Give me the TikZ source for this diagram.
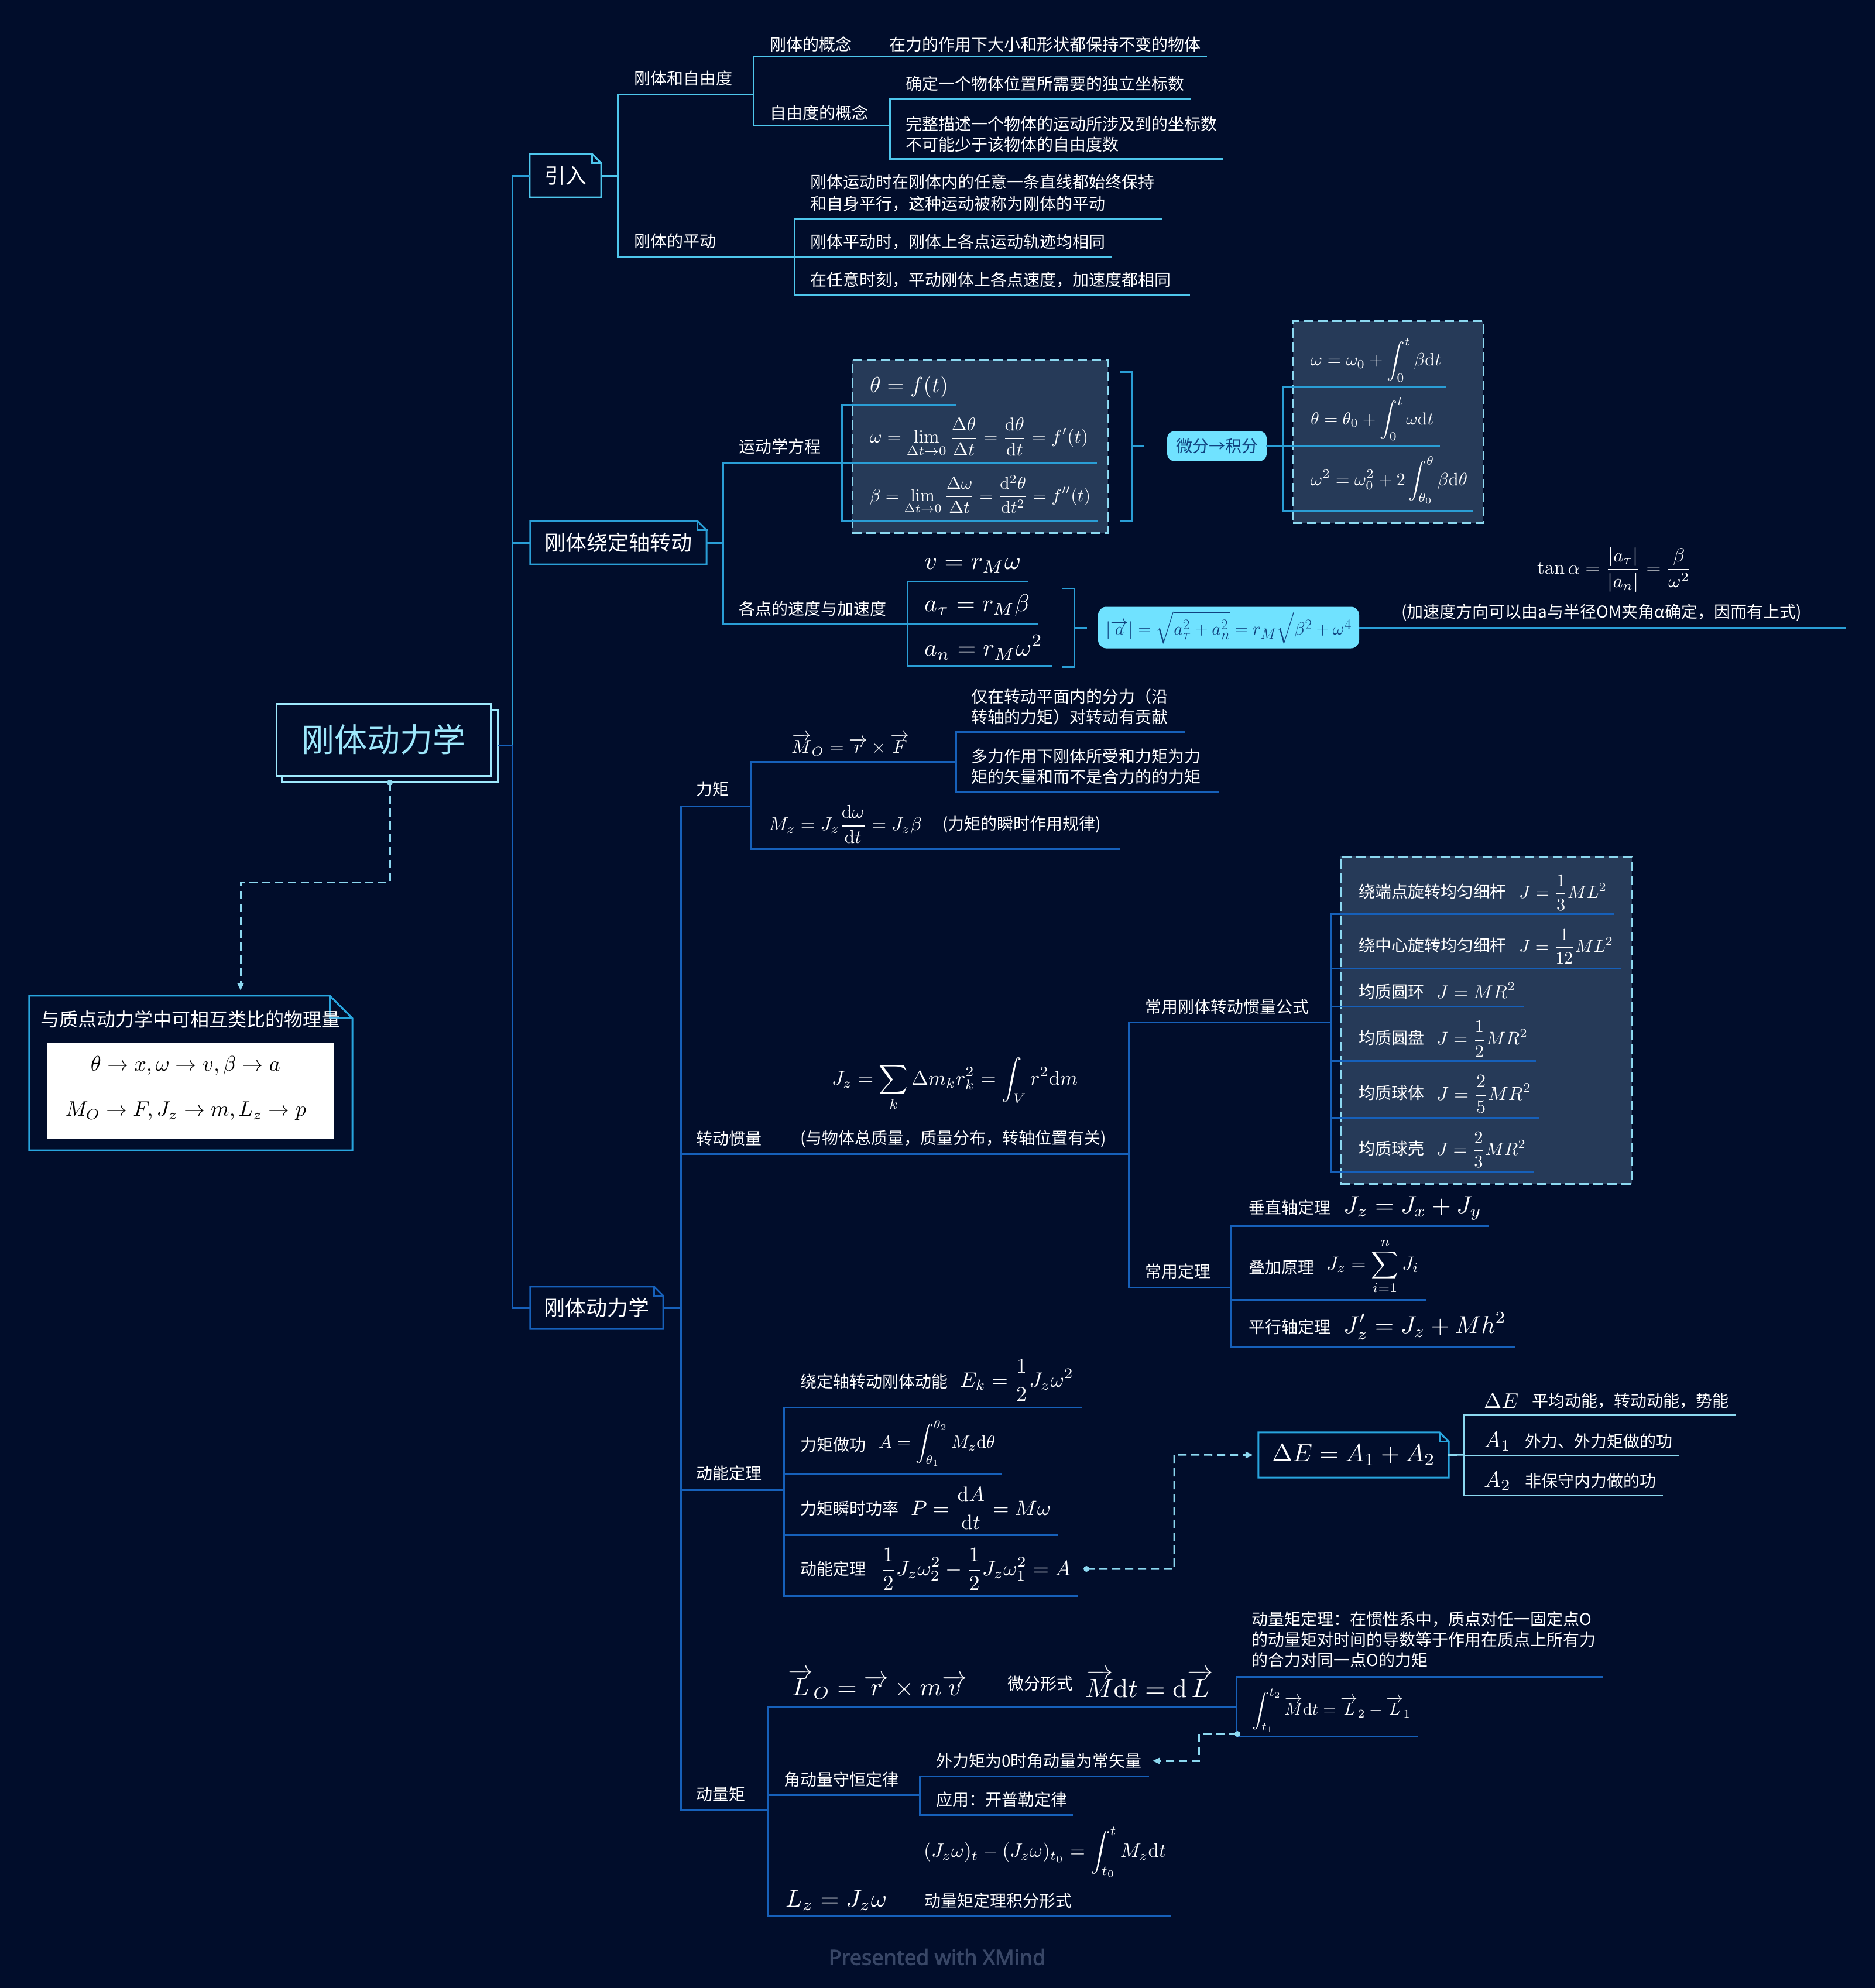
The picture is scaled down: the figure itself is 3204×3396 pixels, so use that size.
\documentclass[tikz,border=0pt]{standalone}
\usepackage{amsmath}
\usepackage[no-math]{fontspec}
\usepackage{graphicx}
\newfontfamily\cjk{Noto Sans CJK SC}
\newfontfamily\footf{Noto Sans}[FakeBold=2.5]
\usetikzlibrary{arrows.meta}
\definecolor{bg}{RGB}{1,13,43}
\definecolor{cA}{RGB}{78,198,236}
\definecolor{cB}{RGB}{42,158,214}
\definecolor{cC}{RGB}{22,96,186}
\definecolor{cD}{RGB}{140,216,240}
\definecolor{cF}{RGB}{38,58,88}
\definecolor{cP}{RGB}{112,226,255}
\definecolor{cT}{RGB}{16,66,128}
\definecolor{cR}{RGB}{158,232,252}
\definecolor{cN}{RGB}{40,165,222}
\definecolor{cG}{RGB}{56,70,102}
\newcommand\fw[2]{\resizebox{#1pt}{!}{$\displaystyle #2$}}
\newcommand\mydd{\mathrm{d}}
\newcommand\vecx[1]{\overrightarrow{#1}}
\newcommand\myline[5][lnC]{\coordinate (#2-l) at (#3,#5);\coordinate (#2-r) at (#4,#5);\draw[#1] (#2-l) -- (#2-r);}
\newcommand\foldbox[3]{%
 \draw[#2] (#1.south west) -- (#1.north west) -- ([xshift=-#3pt]#1.north east) -- ([yshift=-#3pt]#1.north east) -- (#1.south east) -- cycle;
 \draw[#2] ([xshift=-#3pt]#1.north east) -- ([xshift=-#3pt,yshift=-#3pt]#1.north east) -- ([yshift=-#3pt]#1.north east);}
\begin{document}
\begin{tikzpicture}[x=1pt,y=-1pt,
 lnA/.style={line width=3pt,draw=cA,line cap=rect},
 lnB/.style={line width=3pt,draw=cB,line cap=rect},
 lnC/.style={line width=3pt,draw=cC,line cap=rect},
 lnD/.style={line width=3pt,draw=cD,line cap=rect},
 lnN/.style={line width=3pt,draw=cN},
 tx/.style={anchor=west,inner sep=0pt,text=white,font=\cjk\fontsize{28}{35}\selectfont,align=left},
 fm/.style={anchor=west,inner sep=0pt,text=white},
 bx/.style={inner sep=0pt,text=white,font=\cjk\fontsize{36}{40}\selectfont,minimum height=74pt},
 dbox/.style={draw=cD,fill=cF,line width=3pt,dash pattern=on 16pt off 8pt,inner sep=0pt},
 dcon/.style={draw=cD,line width=3pt,dash pattern=on 14pt off 8pt},
 arrtip/.style={-{Triangle[length=13pt,width=11pt]}},
 pillbox/.style={fill=cP,rounded corners=12pt,inner sep=0pt,text=cT,font=\cjk\fontsize{28}{32}\selectfont}
]
\useasboundingbox (0,0) rectangle (3204,3396);
\fill[bg] (0,0) rectangle (3204,3396);

% ---------- central topic ----------
\node[draw=cR,line width=3pt,fill=bg,minimum width=369pt,minimum height=123pt,inner sep=0pt] (rootsh) at (665.5,1273.5) {};
\node[draw=cR,line width=3pt,fill=bg,minimum width=366pt,minimum height=123pt,inner sep=0pt,text=cR,font=\cjk\fontsize{56}{60}\selectfont] (root) at (655,1263.5) {刚体动力学};
\coordinate (trunk) at (875,1273.5);
\draw[lnC] (rootsh.east) -- (trunk);

% ---------- main boxes ----------
\node[bx,minimum width=122pt] (intro) at (966,300) {引入};
\foldbox{intro}{lnA}{16}
\node[bx,minimum width=301pt] (rot) at (1056.5,927) {刚体绕定轴转动};
\foldbox{rot}{lnB}{16}
\node[bx,minimum width=227pt,minimum height=72pt] (dyn) at (1019.5,2234) {刚体动力学};
\foldbox{dyn}{lnC}{16}
\draw[lnB] (trunk) |- (intro.west);
\draw[lnB] (trunk) |- (rot.west);
\draw[lnC] (trunk) |- (dyn.west);

% ---------- 引入 ----------
\coordinate (iV) at (1055,300);
\draw[lnA] (intro.east) -- (iV);
\myline[lnA]{a1}{1055}{1287}{162}
\myline[lnA]{a2}{1055}{1357}{438}
\draw[lnA] (a1-l) -- (a2-l);
\node[tx] (ta1) at (1083,134) {刚体和自由度};
\node[tx] (ta2) at (1083,412) {刚体的平动};
\myline[lnA]{b1}{1287}{2060}{97}
\myline[lnA]{b2}{1287}{1520}{215}
\draw[lnA] (b1-l) -- (b2-l);
\node[tx] (tb1) at (1315,76) {刚体的概念};
\node[tx] (tb1c) at (1519,76) {在力的作用下大小和形状都保持不变的物体};
\node[tx] (tb2) at (1315,193) {自由度的概念};
\myline[lnA]{c1}{1520}{2032}{169}
\myline[lnA]{c2}{1520}{2088}{271}
\draw[lnA] (c1-l) -- (c2-l);
\node[tx] (tc1) at (1547,143) {确定一个物体位置所需要的独立坐标数};
\node[tx] (tc2) at (1547,229) {完整描述一个物体的运动所涉及到的坐标数\\不可能少于该物体的自由度数};
\myline[lnA]{d1}{1357}{1983}{373}
\myline[lnA]{d2}{1357}{1898}{438}
\myline[lnA]{d3}{1357}{2031}{504}
\draw[lnA] (d1-l) -- (d3-l);
\node[tx,font=\cjk\fontsize{28}{37}\selectfont] (td1) at (1384,330) {刚体运动时在刚体内的任意一条直线都始终保持\\和自身平行，这种运动被称为刚体的平动};
\node[tx] (td2) at (1384,413) {刚体平动时，刚体上各点运动轨迹均相同};
\node[tx] (td3) at (1384,478) {在任意时刻，平动刚体上各点速度，加速度都相同};

% ---------- 刚体绕定轴转动 ----------
\node[dbox,minimum width=437pt,minimum height=295pt] (kbox) at (1674.5,762.5) {};
\node[dbox,minimum width=325pt,minimum height=345pt] (ibox) at (2371.5,720.5) {};
\coordinate (rV) at (1235,927);
\draw[lnB] (rot.east) -- (rV);
\myline[lnB]{e1}{1235}{1438}{790}
\myline[lnB]{e2}{1235}{1550}{1065}
\draw[lnB] (e1-l) -- (e2-l);
\node[tx] (te1) at (1262,763) {运动学方程};
\node[tx] (te2) at (1262,1040) {各点的速度与加速度};
\myline[lnB]{f1}{1438}{1632}{691}
\myline[lnB]{f2}{1438}{1872}{790}
\myline[lnB]{f3}{1438}{1873}{889}
\draw[lnB] (f1-l) -- (f3-l);
\node[fm] (ff1) at (1486,661) {\fw{134}{\theta=f(t)}};
\node[fm] (ff2) at (1486,747) {\fw{373}{\omega=\lim_{\Delta t\to0}\frac{\Delta\theta}{\Delta t}=\frac{\mydd\theta}{\mydd t}=f'(t)}};
\node[fm] (ff3) at (1486,845) {\fw{377}{\beta=\lim_{\Delta t\to0}\frac{\Delta\omega}{\Delta t}=\frac{\mydd^2\theta}{\mydd t^2}=f''(t)}};
\draw[lnB] (1914,635) -- (1933,635) -- (1933,889) -- (1914,889);
\draw[lnB] (1933,762) -- (1952,762);
\node[pillbox,minimum width=170pt,minimum height=51pt] (pill) at (2079,762) {微分→积分};
\coordinate (pV) at (2192,762);
\draw[lnB] (pill.east) -- (pV);
\myline[lnB]{g1}{2192}{2468}{660}
\myline[lnB]{g2}{2192}{2458}{762}
\myline[lnB]{g3}{2192}{2514}{872}
\draw[lnB] (g1-l) -- (g3-l);
\node[fm] (fg1) at (2239,615) {\fw{223}{\omega=\omega_0+\int_0^t\beta\mydd t}};
\node[fm] (fg2) at (2239,716) {\fw{210}{\theta=\theta_0+\int_0^t\omega\mydd t}};
\node[fm] (fg3) at (2239,820) {\fw{268}{\omega^2=\omega_0^2+2\int_{\theta_0}^{\theta}\beta\mydd\theta}};
\myline[lnB]{h1}{1550}{1755}{993}
\myline[lnB]{h2}{1550}{1771}{1065}
\myline[lnB]{h3}{1550}{1795}{1137}
\draw[lnB] (h1-l) -- (h3-l);
\node[fm] (fh1) at (1579,966) {\fw{165}{v=r_M\omega}};
\node[fm] (fh2) at (1579,1034) {\fw{180}{a_\tau=r_M\beta}};
\node[fm] (fh3) at (1579,1106) {\fw{202}{a_n=r_M\omega^2}};
\draw[lnB] (1815,1005) -- (1835,1005) -- (1835,1139) -- (1815,1139);
\draw[lnB] (1835,1072) -- (1855,1072);
\node[pillbox,minimum width=446pt,minimum height=71pt,rounded corners=14pt] (abox) at (2099,1072) {\fw{420}{|\vecx{a}|=\sqrt{a_\tau^2+a_n^2}=r_M\sqrt{\beta^2+\omega^4}}};
\coordinate (tanR) at (3152,1072);
\draw[lnB] (abox.east) -- (tanR);
\node[fm] (ftan) at (2626,973) {\fw{264}{\tan\alpha=\frac{|a_\tau|}{|a_n|}=\frac{\beta}{\omega^2}}};
\node[tx] (ttan) at (2394,1046) {(加速度方向可以由a与半径OM夹角α确定，因而有上式)};

% ---------- 刚体动力学 ----------
\node[dbox,minimum width=498pt,minimum height=559pt] (mbox) at (2539,1742.5) {};
\coordinate (dV) at (1163,2234);
\draw[lnC] (dyn.east) -- (dV);
\myline{k1}{1163}{1282}{1377}
\myline{k2}{1163}{1928}{1971}
\myline{k3}{1163}{1339}{2545}
\myline{k4}{1163}{1311}{3091}
\draw[lnC] (k1-l) -- (k4-l);
\node[tx] (tk1) at (1189,1348) {力矩};
\node[tx] (tk2) at (1189,1945) {转动惯量};
\node[tx] (tk3) at (1189,2517) {动能定理};
\node[tx] (tk4) at (1189,3065) {动量矩};
% 力矩
\myline{m1}{1282}{1633}{1301}
\myline{m2}{1282}{1912}{1450}
\draw[lnC] (m1-l) -- (m2-l);
\node[fm] (fm1) at (1352,1272) {\fw{201}{\vecx{M}_O=\vecx{r}\times\vecx{F}}};
\node[fm] (fm2) at (1313,1408) {\fw{262}{M_z=J_z\frac{\mydd\omega}{\mydd t}=J_z\beta}};
\node[tx] (tm2) at (1610,1408) {(力矩的瞬时作用规律)};
\myline{n1}{1633}{2023}{1250}
\myline{n2}{1633}{2081}{1352}
\draw[lnC] (n1-l) -- (n2-l);
\node[tx] (tn1) at (1659,1207) {仅在转动平面内的分力（沿\\转轴的力矩）对转动有贡献};
\node[tx] (tn2) at (1659,1309) {多力作用下刚体所受和力矩为力\\矩的矢量和而不是合力的的力矩};
% 转动惯量
\node[fm] (fjz) at (1421,1852) {\fw{420}{J_z=\sum_k\Delta m_k r_k^2=\int_V r^2\mydd m}};
\node[tx] (tjz) at (1367,1945) {(与物体总质量，质量分布，转轴位置有关)};
\myline{p1}{1928}{2273}{1746}
\myline{p2}{1928}{2103}{2199}
\draw[lnC] (p1-l) -- (p2-l);
\node[tx] (tp1) at (1956,1720) {常用刚体转动惯量公式};
\node[tx] (tp2) at (1956,2172) {常用定理};
\myline{q1}{2273}{2756}{1561}
\myline{q2}{2273}{2768}{1654}
\myline{q3}{2273}{2602}{1719}
\myline{q4}{2273}{2622}{1812}
\myline{q5}{2273}{2628}{1909}
\myline{q6}{2273}{2618}{2001}
\draw[lnC] (q1-l) -- (q6-l);
\node[tx] (tq1) at (2321,1523) {绕端点旋转均匀细杆};
\node[tx] (tq2) at (2321,1615) {绕中心旋转均匀细杆};
\node[tx] (tq3) at (2321,1694) {均质圆环};
\node[tx] (tq4) at (2321,1773) {均质圆盘};
\node[tx] (tq5) at (2321,1867) {均质球体};
\node[tx] (tq6) at (2321,1962) {均质球壳};
\node[fm] (fq1) at (2595,1525) {\fw{150}{J=\frac{1}{3}ML^2}};
\node[fm] (fq2) at (2595,1617) {\fw{161}{J=\frac{1}{12}ML^2}};
\node[fm] (fq3) at (2454,1692) {\fw{135}{J=MR^2}};
\node[fm] (fq4) at (2454,1775) {\fw{156}{J=\frac{1}{2}MR^2}};
\node[fm] (fq5) at (2454,1869) {\fw{162}{J=\frac{2}{5}MR^2}};
\node[fm] (fq6) at (2454,1964) {\fw{153}{J=\frac{2}{3}MR^2}};
\myline{r1}{2103}{2542}{2094}
\myline{r2}{2103}{2434}{2220}
\myline{r3}{2103}{2587}{2300}
\draw[lnC] (r1-l) -- (r3-l);
\node[tx] (tr1) at (2133,2063) {垂直轴定理};
\node[tx] (tr2) at (2133,2165) {叠加原理};
\node[tx] (tr3) at (2133,2267) {平行轴定理};
\node[fm] (fr1) at (2295,2064) {\fw{236}{J_z=J_x+J_y}};
\node[fm] (fr2) at (2266,2163) {\fw{158}{J_z=\sum_{i=1}^{n}J_i}};
\node[fm] (fr3) at (2295,2265) {\fw{278}{J_z'=J_z+Mh^2}};
% 动能定理
\myline{s1}{1339}{1846}{2404}
\myline{s2}{1339}{1709}{2518}
\myline{s3}{1339}{1806}{2622}
\myline{s4}{1339}{1840}{2726}
\draw[lnC] (s1-l) -- (s4-l);
\node[tx] (ts1) at (1367,2360) {绕定轴转动刚体动能};
\node[tx] (ts2) at (1367,2468) {力矩做功};
\node[tx] (ts3) at (1367,2577) {力矩瞬时功率};
\node[tx] (ts4) at (1367,2680) {动能定理};
\node[fm] (fs1) at (1640,2358) {\fw{194}{E_k=\frac{1}{2}J_z\omega^2}};
\node[fm] (fs2) at (1501,2465) {\fw{199}{A=\int_{\theta_1}^{\theta_2}M_z\mydd\theta}};
\node[fm] (fs3) at (1556,2576) {\fw{239}{P=\frac{\mydd A}{\mydd t}=M\omega}};
\node[fm] (fs4) at (1504,2680) {\fw{325}{\frac{1}{2}J_z\omega_2^2-\frac{1}{2}J_z\omega_1^2=A}};
\node[inner sep=0pt,minimum width=325pt,minimum height=77pt,text=white] (dE) at (2312.5,2485.5) {\fw{279}{\Delta E=A_1+A_2}};
\foldbox{dE}{lnN}{16}
\coordinate (kedot) at (1856,2680);
\coordinate (kebend) at (2006,2485);
\draw[dcon,arrtip,shorten >=9pt] (kedot) -| (kebend) -- (dE.west);
\fill[cD] (kedot) circle (5pt);
\coordinate (dEV) at (2501,2485);
\draw[lnD] (dE.east) -- (dEV);
\myline[lnD]{u1}{2501}{2963}{2417}
\myline[lnD]{u2}{2501}{2866}{2486}
\myline[lnD]{u3}{2501}{2839}{2554}
\draw[lnD] (u1-l) -- (u3-l);
\node[fm] (fu1) at (2535,2393) {\fw{59}{\Delta E}};
\node[tx] (tu1) at (2617,2393) {平均动能，转动动能，势能};
\node[fm] (fu2) at (2535,2462) {\fw{46}{A_1}};
\node[tx] (tu2) at (2605,2462) {外力、外力矩做的功};
\node[fm] (fu3) at (2535,2530) {\fw{46}{A_2}};
\node[tx] (tu3) at (2605,2530) {非保守内力做的功};
% 动量矩
\myline{w1}{1311}{2112}{2916}
\myline{w2}{1311}{1571}{3066}
\myline{w3}{1311}{1999}{3273}
\draw[lnC] (w1-l) -- (w3-l);
\node[fm] (fw1) at (1346,2877) {\fw{306}{\vecx{L}_O=\vecx{r}\times m\vecx{v}}};
\node[tx] (tw1) at (1721,2876) {微分形式};
\node[fm] (fw1b) at (1854,2876) {\fw{219}{\vecx{M}\mydd t=\mydd\vecx{L}}};
\myline{x1}{2112}{2736}{2864}
\myline{x2}{2112}{2420}{2966}
\draw[lnC] (x1-l) -- (x2-l);
\node[tx] (tx1) at (2138,2801) {动量矩定理：在惯性系中，质点对任一固定点O\\的动量矩对时间的导数等于作用在质点上所有力\\的合力对同一点O的力矩};
\node[fm] (fx2) at (2139,2922) {\fw{271}{\int_{t_1}^{t_2}\vecx{M}\mydd t=\vecx{L}_2-\vecx{L}_1}};
\node[tx] (tw2) at (1339,3040) {角动量守恒定律};
\myline{y1}{1571}{1961}{3034}
\myline{y2}{1571}{1831}{3100}
\draw[lnC] (y1-l) -- (y2-l);
\node[tx] (tcons) at (1599,3008) {外力矩为0时角动量为常矢量};
\node[tx] (tkep) at (1599,3074) {应用：开普勒定律};
\coordinate (amdot) at (2114,2962);
\coordinate (ambend) at (2048,3008);
\draw[dcon,arrtip] (amdot) -| (ambend) -- ([xshift=18pt]tcons.east);
\fill[cD] (amdot) circle (5pt);
\node[fm] (fw3a) at (1578,3164) {\fw{414}{(J_z\omega)_t-(J_z\omega)_{t_0}=\int_{t_0}^{t}M_z\mydd t}};
\node[fm] (fw3) at (1342,3246) {\fw{173}{L_z=J_z\omega}};
\node[tx] (tw3) at (1579,3247) {动量矩定理积分形式};

% ---------- left note ----------
\node[inner sep=0pt,minimum width=552pt,minimum height=264pt] (note) at (326,1833) {};
\foldbox{note}{lnN}{39}
\node[tx,font=\cjk\fontsize{32}{36}\selectfont] (tnote) at (69,1741) {与质点动力学中可相互类比的物理量};
\node[fill=white,minimum width=491pt,minimum height=164pt,inner sep=0pt] (wbox) at (325.5,1863) {};
\node[inner sep=0pt,text=black] (fn1) at (317,1820) {\fw{324}{\theta\to x,\omega\to v,\beta\to a}};
\node[inner sep=0pt,text=black] (fn2) at (317.5,1898) {\fw{411}{M_O\to F,J_z\to m,L_z\to p}};
\coordinate (rdot) at (666,1337);
\coordinate (nbend) at (411,1507);
\coordinate (narr) at (411,1692);
\draw[dcon,arrtip] (rdot) |- (nbend) -- (narr);
\fill[cD] (rdot) circle (5pt);

% ---------- footer ----------
\node[text=cG,font=\footf\fontsize{36}{40}\selectfont,inner sep=0pt] (foot) at (1601,3343) {Presented with XMind};
\end{tikzpicture}
\end{document}
